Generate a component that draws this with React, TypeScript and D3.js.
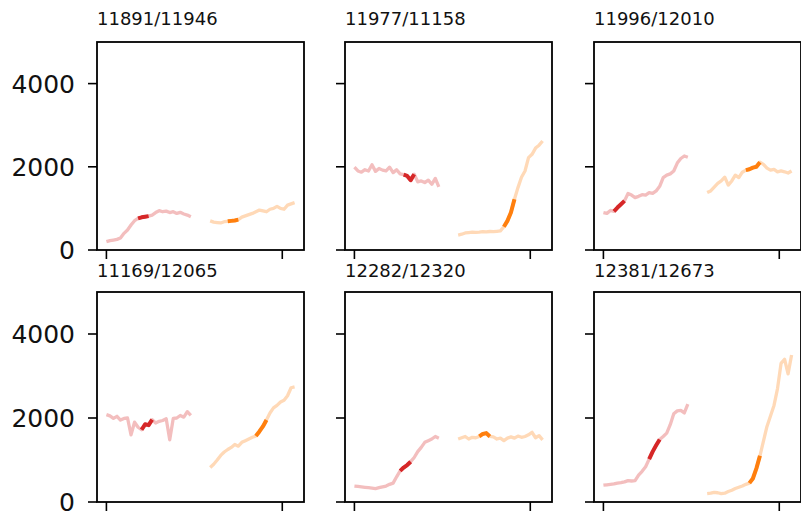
import React from "react";
import * as d3 from "d3";

// panel titles, row by row
const titles = [
  "11891/11946",
  "11977/11158",
  "11996/12010",
  "11169/12065",
  "12282/12320",
  "12381/12673",
];

// day index of each sample (first window, then second window)
const redDays = [0, 2, 4, 6, 8, 10, 12, 14, 16, 18, 20, 22, 24, 26, 28, 30, 32, 34, 36, 38, 40, 42, 44, 46, 48];
const orangeDays = [59, 61, 63, 65, 67, 69, 71, 73, 75, 77, 79, 81, 83, 85, 87, 89, 91, 93, 95, 97, 99, 101, 103, 105, 107];

const redValues = [
  [200, 225, 240, 255, 290, 400, 480, 600, 705, 760, 785, 800, 815, 840, 900, 945, 920, 935, 900, 920, 880, 905, 865, 840, 800],
  [1990, 1900, 1870, 1930, 1900, 2050, 1890, 1960, 1920, 1900, 1990, 1860, 1930, 1830, 1810, 1780, 1680, 1820, 1640, 1660, 1620, 1680, 1580, 1720, 1520],
  [900, 880, 950, 930, 1020, 1100, 1180, 1360, 1320, 1260, 1290, 1330, 1320, 1380, 1360, 1420, 1530, 1740, 1800, 1830, 1900, 2090, 2200, 2260, 2230],
  [2080, 2050, 1990, 2040, 1950, 1990, 2000, 1600, 1900, 1780, 1720, 1850, 1830, 1960, 1880, 1920, 1940, 1980, 1480, 1990, 2000, 2060, 2020, 2150, 2060],
  [380, 370, 360, 350, 340, 330, 320, 340, 360, 380, 420, 450, 600, 740, 820, 880, 960, 1060, 1200, 1300, 1420, 1460, 1500, 1560, 1520],
  [400, 410, 420, 430, 450, 460, 480, 510, 500, 510, 640, 730, 840, 1020, 1200, 1350, 1490, 1560, 1640, 1840, 2100, 2170, 2180, 2120, 2330],
];

const orangeValues = [
  [700, 670, 660, 650, 680, 690, 700, 710, 730, 790, 820, 850, 880, 920, 960, 940, 920, 980, 1000, 1050, 1000, 980, 1080, 1110, 1140],
  [360, 380, 410, 420, 430, 425, 430, 440, 435, 445, 440, 450, 460, 560, 700, 900, 1220, 1500, 1750, 1900, 2220, 2300, 2450, 2520, 2620],
  [1380, 1420, 1510, 1600, 1660, 1750, 1560, 1660, 1800, 1740, 1870, 1920, 1940, 1980, 2000, 2110, 2060, 1970, 1920, 1940, 1880, 1900, 1880, 1850, 1900],
  [820, 900, 1000, 1110, 1190, 1250, 1300, 1370, 1330, 1420, 1460, 1500, 1540, 1570, 1680, 1800, 1950, 2120, 2240, 2300, 2380, 2420, 2530, 2720, 2740],
  [1500, 1530, 1560, 1500, 1540, 1530, 1560, 1620, 1640, 1560, 1550, 1500, 1520, 1460, 1520, 1550, 1520, 1570, 1540, 1560, 1600, 1660, 1530, 1580, 1480],
  [200, 210, 230, 220, 200, 210, 250, 280, 320, 350, 380, 420, 450, 560, 800, 1100, 1450, 1800, 2050, 2300, 2700, 3300, 3400, 3050, 3500],
];

// first and last sample index of the highlighted stretch
const redHighlight = [[9, 12], [14, 17], [3, 6], [10, 13], [13, 16], [13, 16]];
const orangeHighlight = [[5, 8], [13, 16], [11, 15], [13, 16], [6, 9], [12, 15]];

const yTicks = [0, 2000, 4000];
const xTicks = [0, 100];

const colLeft = [97, 345, 594];
const rowTop = [42, 292];
const rowBottom = [250, 502];
const panelW = 207;

const Panel = ({ i }: { i: number }) => {
  const col = i % 3;
  const row = Math.floor(i / 3);
  const left = colLeft[col];
  const top = rowTop[row];
  const bottom = rowBottom[row];

  const x = d3.scaleLinear().domain([-5.35, 112.35]).range([left, left + panelW]);
  const y = d3.scaleLinear().domain([0, 5000]).range([bottom, top]);

  const line = d3
    .line<[number, number]>()
    .x((d) => x(d[0]))
    .y((d) => y(d[1]));

  const red = redDays.map((d, k) => [d, redValues[i][k]] as [number, number]);
  const orange = orangeDays.map((d, k) => [d, orangeValues[i][k]] as [number, number]);
  const [rs, re] = redHighlight[i];
  const [os, oe] = orangeHighlight[i];

  return (
    <g>
      <text x={left} y={row === 0 ? 25 : 277} fontSize={18} fill="#111">
        {titles[i]}
      </text>
      <path d={line(red) || ""} fill="none" stroke="#f3bebe" strokeWidth={3.3} strokeLinejoin="round" />
      <path d={line(orange) || ""} fill="none" stroke="#ffd9b7" strokeWidth={3.3} strokeLinejoin="round" />
      <path d={line(red.slice(rs, re + 1)) || ""} fill="none" stroke="#d62728" strokeWidth={4} strokeLinejoin="round" />
      <path d={line(orange.slice(os, oe + 1)) || ""} fill="none" stroke="#ff7f0e" strokeWidth={4} strokeLinejoin="round" />
      <rect x={left} y={top} width={panelW} height={bottom - top} fill="none" stroke="#000" strokeWidth={1.8} />
      {yTicks.map((t) => (
        <g key={t}>
          <line x1={left - 9} x2={left} y1={y(t)} y2={y(t)} stroke="#000" strokeWidth={1.6} />
          {col === 0 && (
            <text x={left - 22} y={y(t)} dy="0.36em" textAnchor="end" fontSize={25} fill="#111">
              {t}
            </text>
          )}
        </g>
      ))}
      {xTicks.map((t) => (
        <line key={t} x1={x(t)} x2={x(t)} y1={bottom} y2={bottom + 9} stroke="#000" strokeWidth={1.6} />
      ))}
    </g>
  );
};

export default function App() {
  return (
    <svg
      width={801}
      height={511}
      style={{ position: "absolute", left: 0, top: 0, background: "#fff" }}
      fontFamily="DejaVu Sans"
    >
      {titles.map((_, i) => (
        <Panel key={i} i={i} />
      ))}
    </svg>
  );
}
